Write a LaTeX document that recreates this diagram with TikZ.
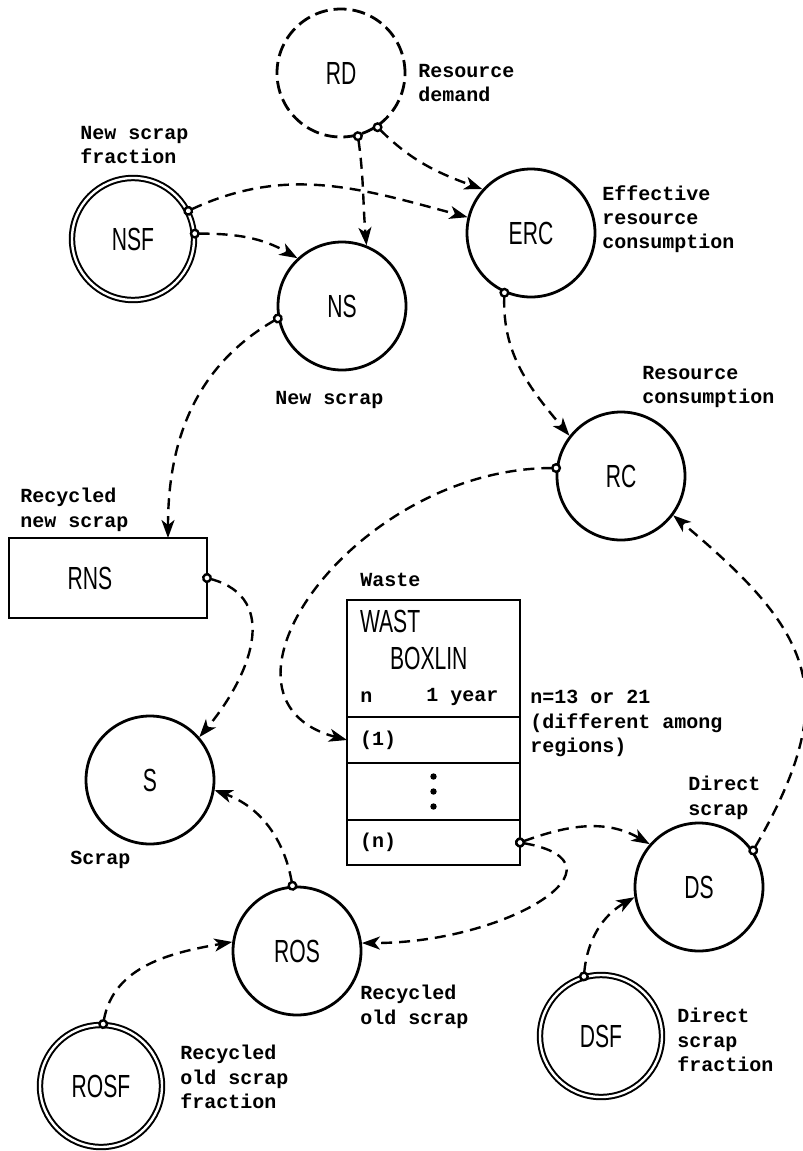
\documentclass[tikz,border=0pt]{standalone}
\usepackage{fontspec}
\setmainfont{Liberation Sans}
\newfontfamily\blockfont[FakeStretch=0.66]{Liberation Sans}
\newfontfamily\notefont{Liberation Mono}
\usetikzlibrary{arrows.meta,automata,positioning}

\tikzset{
  every state/.style={draw, line width=1.4pt, minimum size=64pt, inner sep=0pt,
    font=\blockfont\fontsize{16pt}{18pt}\selectfont},
  accepting/.style={double, line width=1pt, double distance=1.2pt, minimum size=61pt},
  box/.style={draw, rectangle, line width=1.2pt, inner sep=0pt, outer sep=0pt,
    font=\blockfont\fontsize{16pt}{18pt}\selectfont},
  row/.style={minimum width=86.5pt, text width=73.5pt, inner xsep=6.5pt, align=left,
    font=\notefont\bfseries\fontsize{10pt}{12.2pt}\selectfont},
  note/.style={anchor=north west, inner sep=0pt, align=left,
    font=\notefont\bfseries\fontsize{10pt}{12.2pt}\selectfont},
  link/.style={line width=1.2pt, dash pattern=on 5.5pt off 3.5pt,
    {Circle[length=5pt,width=5pt,fill=white]}-{Stealth[length=9pt,width=6.5pt,inset=2.5pt]},
    shorten <=-2.5pt}
}

\begin{document}
\begin{tikzpicture}[x=0.5pt,y=-0.5pt]
\useasboundingbox (0,0) rectangle (803,1151);

% levels, rates and auxiliaries
\node[state, dash pattern=on 6.5pt off 3pt] (RD) at (341,73) {RD};
\node[state, accepting] (NSF) at (133,239) {NSF};
\node[state] (ERC) at (531,233) {ERC};
\node[state] (NS) at (342,306) {NS};
\node[state] (RC) at (621,476) {RC};
\node[box, minimum width=99pt, minimum height=40pt] (RNS) at (108,578) {RNS\hspace*{18pt}};
\node[state] (S) at (150,780) {S};
\node[state] (DS) at (699,887) {DS};
\node[state] (ROS) at (297,951) {ROS};
\node[state, accepting] (DSF) at (601,1036) {DSF};
\node[state, accepting] (ROSF) at (101,1086) {ROSF};

% the boxcar
\node[box, minimum width=86.5pt, minimum height=58.5pt] (wasthead) at (433.5,658.5) {};
\node[box, row, minimum height=23pt, below=0pt of wasthead] (wast1) {(1)};
\node[box, row, minimum height=28.5pt, below=0pt of wast1] (wastdots) {};
\node[box, row, minimum height=22.5pt, below=0pt of wastdots] (wastn) {(n)};
\node[box, draw=none, anchor=west] (wastname) at (360,621) {WAST};
\node[box, draw=none, anchor=west] (boxlin) at (390,658) {BOXLIN};
\node[note, anchor=west] (wastcount) at (360,697) {n};
\node[note, anchor=west] (wastyear) at (426,697) {1 year};
\foreach \dy in {-15,0,15}
  \fill ([yshift=\dy*0.5pt]wastdots.center) circle (1.6pt);

% names
\node[note] (RDlab) at (418,64) {Resource\\demand};
\node[note] (NSFlab) at (80,126) {New scrap\\fraction};
\node[note] (ERClab) at (602,185) {Effective\\resource\\consumption};
\node[note] (NSlab) at (275,391) {New scrap};
\node[note] (RClab) at (642,366) {Resource\\consumption};
\node[note] (RNSlab) at (20,488) {Recycled\\new scrap};
\node[note] (wastlab) at (360,573) {Waste};
\node[note] (wastnote) at (530,690) {n=13 or 21\\(different among\\regions)};
\node[note] (Slab) at (70,851) {Scrap};
\node[note] (DSlab) at (688,776) {Direct\\scrap};
\node[note] (ROSlab) at (360,985) {Recycled\\old scrap};
\node[note] (DSFlab) at (677,1008) {Direct\\scrap\\fraction};
\node[note] (ROSFlab) at (180,1045) {Recycled\\old scrap\\fraction};

% information links
\path[link]
  (RD.-56)     edge[out=-45, in=160]  (ERC.138)
  (RD.-75)     edge[out=-82, in=95]   (NS.68)
  (NSF.27)     edge[out=25, in=165]   (ERC.166)
  (NSF.5)      edge[out=0, in=150]    (NS.133)
  (NS.-169)    edge[out=-150, in=90]  ([xshift=30pt]RNS.north)
  (ERC.-114)   edge[out=-92, in=130]  (RC.142)
  (RC.173)     edge[out=180, in=165, out looseness=1.5, in looseness=1.2] (wast1.west)
  (RNS.east)   edge[out=-15, in=50, looseness=1.25] (S.41)
  (wastn.east) edge[out=20, in=150]   (DS.139)
  (wastn.east) edge[out=-10, in=0, out looseness=1.6, in looseness=2] (ROS.7)
  (ROS.94)     edge[out=100, in=-20]  (S.-9)
  (ROSF.88)    edge[out=80, in=190]   (ROS.172)
  (DSF.106)    edge[out=85, in=-150]  (DS.-171)
  (DS.34)      edge[out=60, in=-40, looseness=1.35] (RC.-37);
\end{tikzpicture}
\end{document}
